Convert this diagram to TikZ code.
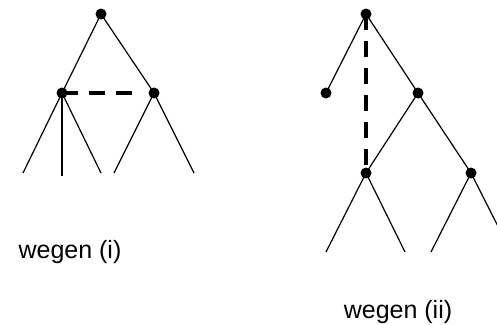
\documentclass[tikz,border=0pt]{standalone}
\usepackage{fontspec}
\setmainfont{Liberation Sans}
\usetikzlibrary{positioning}

\begin{document}
\begin{tikzpicture}[
    x=1pt, y=-1pt,
    knot/.style={circle, fill=black, inner sep=0pt, minimum size=11pt},
    branch/.style={line width=1.2pt},
    link/.style={line width=3.5pt, dash pattern=on 16pt off 11pt},
    caption/.style={font=\fontsize{25}{30}\selectfont}
  ]
  \useasboundingbox (0,0) rectangle (497,324);
  \clip (0,0) rectangle (497,324);

  % Tree (i)
  \node[knot] (r1) at (101,14) {};
  \node[knot] (a1) at (62,93) {};
  \node[knot] (b1) at (154,93) {};
  \coordinate (a1l) at (23,173);
  \coordinate (a1m) at (62,176);
  \coordinate (a1r) at (101,173);
  \coordinate (b1l) at (114,173);
  \coordinate (b1r) at (194,173);
  \draw[branch] (r1.center) -- (a1.center);
  \draw[branch] (r1.center) -- (b1.center);
  \draw[branch] (a1.center) -- (a1l);
  \draw[branch] (a1.center) -- (a1m);
  \draw[branch] (a1.center) -- (a1r);
  \draw[branch] (b1.center) -- (b1l);
  \draw[branch] (b1.center) -- (b1r);
  \draw[link, shorten >=10pt] (a1.center) -- (b1.west);
  \node[caption] (c1) at (70,252) {wegen (i)};

  % Tree (ii)
  \node[knot] (r2) at (366,14) {};
  \node[knot] (a2) at (326,93) {};
  \node[knot] (b2) at (418,93) {};
  \node[knot] (d2) at (366,173) {};
  \node[knot] (e2) at (471,173) {};
  \coordinate (d2l) at (326,252);
  \coordinate (d2r) at (405,252);
  \coordinate (e2l) at (431,252);
  \coordinate (e2r) at (511,252);
  \draw[branch] (r2.center) -- (a2.center);
  \draw[branch] (r2.center) -- (b2.center);
  \draw[branch] (b2.center) -- (d2.center);
  \draw[branch] (b2.center) -- (e2.center);
  \draw[branch] (d2.center) -- (d2l);
  \draw[branch] (d2.center) -- (d2r);
  \draw[branch] (e2.center) -- (e2l);
  \draw[branch] (e2.center) -- (e2r);
  \draw[link] (r2.center) -- (d2.center);
  \node[caption] (c2) at (398,312) {wegen (ii)};
\end{tikzpicture}
\end{document}
